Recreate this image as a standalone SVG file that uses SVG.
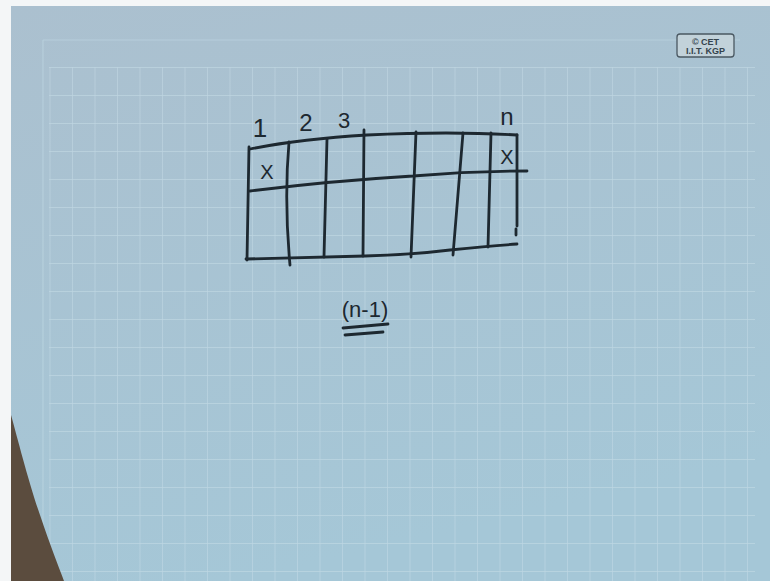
<svg xmlns="http://www.w3.org/2000/svg" width="770" height="581" viewBox="0 0 770 581">
  <defs>
    <linearGradient id="bg" x1="0" y1="0" x2="0.3" y2="1">
      <stop offset="0" stop-color="#abc0cf"/>
      <stop offset="1" stop-color="#a5c7d7"/>
    </linearGradient>
    <pattern id="grid" x="49.5" y="67" width="22.5" height="28" patternUnits="userSpaceOnUse">
      <path d="M0,0 H22.5 M0,0 V28" fill="none" stroke="#c6dde8" stroke-width="1.3" stroke-opacity="0.7"/>
    </pattern>
    <style>
      .pen { fill: none; stroke: #1d2830; stroke-width: 2.8; stroke-linecap: round; stroke-linejoin: round; }
      .hand { font-family: "Liberation Sans", "DejaVu Sans", sans-serif; fill: #1d2830; text-anchor: middle; }
      .logo { font-family: "Liberation Sans", "DejaVu Sans", sans-serif; fill: #34434d; font-size: 9px; font-weight: bold; text-anchor: middle; }
    </style>
  </defs>

  <g id="background">
    <rect x="0" y="0" width="770" height="581" fill="#f4f6f7"/>
    <rect x="11" y="6" width="759" height="575" fill="url(#bg)"/>
    <rect x="49" y="67" width="706" height="514" fill="url(#grid)"/>
    <path d="M43,40 H740 M43,40 V581" fill="none" stroke="#c6dde8" stroke-width="1.2" stroke-opacity="0.5"/>
    <path d="M11,415 C18,440 28,480 40,515 C50,545 58,565 64,581 L11,581 Z" fill="#5b4c3e"/>
  </g>

  <g id="logo">
    <rect x="677" y="34" width="57" height="23" rx="3" fill="#c2d2da" stroke="#4a5862" stroke-width="1.3"/>
    <text class="logo" x="705.5" y="44.5">© CET</text>
    <text class="logo" x="705.5" y="54">I.I.T. KGP</text>
  </g>

  <g id="table">
    <path class="pen" d="M250,149 Q300,139 367,135 Q450,131 517,135"/>
    <path class="pen" d="M250,191 Q330,181 413,176 Q470,171 527,171"/>
    <path class="pen" d="M246,259 L365,256 Q410,255 450,250 Q490,246 517,244"/>
    <path class="pen" d="M249,147 L247,260"/>
    <path class="pen" d="M289,142 Q284,200 290,265"/>
    <path class="pen" d="M327,139 L324,257"/>
    <path class="pen" d="M364,130 L363,256"/>
    <path class="pen" d="M416,132 L411,257"/>
    <path class="pen" d="M463,133 L453,255"/>
    <path class="pen" d="M491,133 L488,247"/>
    <path class="pen" d="M517,135 L517,226"/>
    <path class="pen" d="M516,229 L516,235"/>
  </g>

  <g id="labels">
    <text class="hand" x="260" y="137" font-size="26">1</text>
    <text class="hand" x="306" y="131" font-size="24">2</text>
    <text class="hand" x="344" y="128" font-size="22">3</text>
    <text class="hand" x="507" y="125" font-size="24">n</text>
    <text class="hand" x="267" y="179" font-size="20">X</text>
    <text class="hand" x="507" y="164" font-size="20">X</text>
    <text class="hand" x="365" y="317" font-size="22">(n-1)</text>
    <path class="pen" d="M343,328 L388,324"/>
    <path class="pen" d="M345,335 L383,332"/>
  </g>
</svg>
